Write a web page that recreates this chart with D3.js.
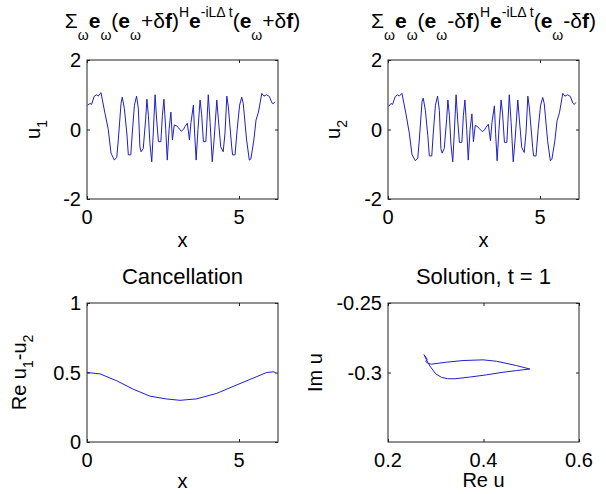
<!DOCTYPE html>
<html>
<head>
<meta charset="utf-8">
<script src="https://d3js.org/d3.v7.min.js"></script>
<style>
  body { margin: 0; background: #fff; }
  svg { display: block; }
  text { font-family: "Liberation Sans", Arial, sans-serif; fill: #000; white-space: pre; }
</style>
</head>
<body>
<svg id="chart" width="606" height="494"></svg>
<script>
// ---- data ----
// top panels: [x, u] samples
var u1 = [[0.02,0.70],[0.10,0.75],[0.15,0.72],[0.24,0.96],[0.32,1.00],[0.37,0.96],[0.46,1.06],[0.59,0.47],[0.70,0.00],[0.79,-0.68],
  [0.90,-0.88],[0.98,-0.80],[1.03,-0.30],[1.12,0.75],[1.16,0.93],[1.23,0.60],[1.31,-0.10],[1.36,-0.73],[1.44,-0.73],[1.49,-0.10],
  [1.56,0.70],[1.63,0.96],[1.69,0.60],[1.74,-0.50],[1.78,-0.64],[1.85,-0.55],[1.93,0.30],[1.97,0.87],[2.02,0.40],[2.07,-0.40],
  [2.13,-0.93],[2.18,-0.10],[2.24,1.00],[2.29,0.30],[2.35,-0.35],[2.43,-0.35],[2.48,0.40],[2.53,0.87],[2.59,0.00],[2.64,-0.88],
  [2.70,0.00],[2.76,0.50],[2.81,-0.30],[2.87,0.13],[2.95,0.10],[3.01,0.05],[3.10,-0.05],[3.17,0.00],[3.22,0.08],[3.30,0.18],
  [3.37,-0.30],[3.42,0.20],[3.50,0.70],[3.54,-0.10],[3.59,-0.88],[3.65,0.00],[3.72,0.85],[3.77,0.45],[3.83,-0.35],[3.91,-0.35],
  [3.95,0.30],[3.99,1.00],[4.05,0.20],[4.12,-0.93],[4.18,-0.30],[4.27,0.85],[4.32,0.30],[4.40,-0.50],[4.48,-0.64],[4.54,-0.10],
  [4.60,0.96],[4.65,0.65],[4.76,-0.50],[4.79,-0.73],[4.87,-0.73],[4.94,0.00],[5.02,0.70],[5.09,0.93],[5.14,0.75],[5.25,-0.30],
  [5.34,-0.88],[5.39,-0.85],[5.49,-0.30],[5.56,0.27],[5.64,0.50],[5.75,1.04],[5.82,0.96],[5.91,1.00],[6.00,0.95],[6.08,0.77],
  [6.13,0.74],[6.18,0.80]];

var u2 = [[0.02,0.66],[0.10,0.75],[0.15,0.72],[0.24,0.95],[0.32,1.00],[0.37,0.96],[0.46,1.04],[0.59,0.45],[0.70,-0.10],[0.79,-0.72],
  [0.90,-0.90],[0.98,-0.82],[1.03,-0.30],[1.12,0.80],[1.16,0.90],[1.23,0.55],[1.31,-0.18],[1.36,-0.76],[1.44,-0.76],[1.49,-0.10],
  [1.56,0.70],[1.63,0.96],[1.69,0.55],[1.74,-0.55],[1.78,-0.68],[1.85,-0.55],[1.93,0.30],[1.97,0.85],[2.02,0.40],[2.07,-0.42],
  [2.13,-0.93],[2.18,-0.10],[2.24,1.00],[2.29,0.30],[2.35,-0.37],[2.43,-0.37],[2.48,0.40],[2.53,0.85],[2.59,0.00],[2.64,-0.88],
  [2.70,0.00],[2.76,0.45],[2.81,-0.35],[2.87,0.12],[2.95,0.08],[3.01,0.02],[3.10,-0.06],[3.17,-0.02],[3.22,0.06],[3.30,0.15],
  [3.37,-0.32],[3.42,0.20],[3.50,0.68],[3.54,-0.12],[3.59,-0.90],[3.65,0.00],[3.72,0.85],[3.77,0.45],[3.83,-0.37],[3.91,-0.37],
  [3.95,0.30],[3.99,1.00],[4.05,0.20],[4.12,-0.93],[4.18,-0.30],[4.27,0.85],[4.32,0.30],[4.40,-0.52],[4.48,-0.66],[4.54,-0.10],
  [4.60,0.96],[4.65,0.62],[4.76,-0.52],[4.79,-0.76],[4.87,-0.76],[4.94,0.00],[5.02,0.70],[5.09,0.92],[5.14,0.75],[5.25,-0.32],
  [5.34,-0.90],[5.39,-0.86],[5.49,-0.32],[5.56,0.25],[5.64,0.48],[5.75,1.04],[5.82,0.96],[5.91,1.00],[6.00,0.95],[6.08,0.76],
  [6.13,0.72],[6.18,0.78]];

// bottom left: Re(u1 - u2)
var cancX = [0, 0.43, 0.98, 1.52, 2.07, 2.60, 3.06, 3.60, 4.27, 4.81, 5.36, 5.91, 6.13, 6.20];
var cancY = [0.50, 0.49, 0.44, 0.38, 0.33, 0.31, 0.30, 0.31, 0.35, 0.40, 0.45, 0.50, 0.505, 0.50];

// bottom right: solution in the complex plane
var solRe = [0.275, 0.282, 0.279, 0.284, 0.291, 0.322, 0.357, 0.399, 0.427, 0.469, 0.497, 0.469, 0.441, 0.406,
  0.371, 0.340, 0.325, 0.312, 0.300, 0.288, 0.280, 0.276];
var solIm = [-0.287, -0.2905, -0.292, -0.2935, -0.294, -0.2926, -0.2914, -0.2909, -0.2919, -0.295, -0.2975, -0.2986, -0.2998, -0.3017,
  -0.3033, -0.3045, -0.3045, -0.3035, -0.301, -0.2955, -0.2905, -0.2875];

var xTicksTop = [0, 5];
var yTicksTop = [-2, 0, 2];
var yTicksCanc = [0, 0.5, 1];
var xTicksSol = [0.2, 0.4, 0.6];
var yTicksSol = [-0.3, -0.25];

var title1 = [["Σ"],["ω","sub"],["e","b"],["ω","sub"],["("],["e","b"],["ω","sub"],["+δ"],["f","b"],[")"],["H","sup"],
  ["e","b"],["-iLΔ t","sup"],["("],["e","b"],["ω","sub"],["+δ"],["f","b"],[")"]];
var title2 = [["Σ"],["ω","sub"],["e","b"],["ω","sub"],["("],["e","b"],["ω","sub"],["-δ"],["f","b"],[")"],["H","sup"],
  ["e","b"],["-iLΔ t","sup"],["("],["e","b"],["ω","sub"],["-δ"],["f","b"],[")"]];

var svg = d3.select("#chart");
var BIG = 20, SMALL = 14;
var lineColor = "#1f1fc8";

function rich(sel, parts, size, subSize, subOff, supOff) {
  var cur = 0;
  parts.forEach(function(p) {
    var kind = p[1] || "n";
    var off = kind == "sub" ? subOff : (kind == "sup" ? supOff : 0);
    var s = sel.append("tspan").attr("dy", off - cur).text(p[0])
      .attr("font-size", (kind == "sub" || kind == "sup") ? subSize : size);
    if (kind == "b") s.attr("font-weight", "bold");
    cur = off;
  });
}

function panel(cfg) {
  var g = svg.append("g").attr("transform", "translate(" + cfg.left + "," + cfg.top + ")");
  var x = d3.scaleLinear().domain(cfg.xd).range([0, cfg.w]);
  var y = d3.scaleLinear().domain(cfg.yd).range([cfg.h, 0]);

  var line = d3.line().x(function(d) { return x(d[0]); }).y(function(d) { return y(d[1]); });
  g.append("path").datum(cfg.data)
    .attr("fill", "none").attr("stroke", lineColor).attr("stroke-width", 1)
    .attr("stroke-linejoin", "round").attr("d", line);

  // ticks inside, on all four sides
  var tk = 3;
  g.append("g").attr("transform", "translate(0," + cfg.h + ")")
    .call(d3.axisBottom(x).tickValues(cfg.xt).tickSize(-tk).tickFormat(""))
    .call(function(a) { a.select(".domain").remove(); });
  g.append("g")
    .call(d3.axisTop(x).tickValues(cfg.xt).tickSize(-tk).tickFormat(""))
    .call(function(a) { a.select(".domain").remove(); });
  g.append("g")
    .call(d3.axisLeft(y).tickValues(cfg.yt).tickSize(-tk).tickFormat(""))
    .call(function(a) { a.select(".domain").remove(); });
  g.append("g").attr("transform", "translate(" + cfg.w + ",0)")
    .call(d3.axisRight(y).tickValues(cfg.yt).tickSize(-tk).tickFormat(""))
    .call(function(a) { a.select(".domain").remove(); });
  g.selectAll(".tick line").attr("stroke", "#222");

  g.append("rect").attr("width", cfg.w).attr("height", cfg.h)
    .attr("fill", "none").attr("stroke", "#222").attr("stroke-width", 1);

  // tick labels
  g.selectAll(".xl").data(cfg.xt).enter().append("text")
    .attr("x", function(d) { return x(d); }).attr("y", cfg.h + 25)
    .attr("text-anchor", "middle").attr("font-size", BIG).text(function(d) { return d; });
  g.selectAll(".yl").data(cfg.yt).enter().append("text")
    .attr("x", -6).attr("y", function(d) { return y(d) + 7; })
    .attr("text-anchor", "end").attr("font-size", BIG).text(function(d) { return d; });

  // x label
  g.append("text").attr("x", cfg.w / 2).attr("y", cfg.h + cfg.xlOff)
    .attr("text-anchor", "middle").attr("font-size", BIG).text(cfg.xlabel);

  // y label
  var yl = g.append("text").attr("text-anchor", "middle")
    .attr("transform", "translate(" + cfg.ylOff + "," + cfg.h / 2 + ") rotate(-90)");
  rich(yl, cfg.ylabel, BIG, SMALL, 7, -8);

  // title
  var tt = g.append("text").attr("text-anchor", "middle")
    .attr("transform", "translate(" + cfg.w / 2 + "," + cfg.titleOff + ")");
  rich(tt, cfg.title, cfg.titleSize, SMALL, 12, -11);
}

var W = 191, H = 139;

panel({ left: 87, top: 60, w: W, h: H, xd: [0, 2 * Math.PI], yd: [-2, 2], xt: xTicksTop, yt: yTicksTop,
  data: u1, xlabel: "x", xlOff: 48, ylabel: [["u"], ["1", "sub"]], ylOff: -47,
  title: title1, titleSize: 21, titleOff: -32 });

panel({ left: 388, top: 60, w: W, h: H, xd: [0, 2 * Math.PI], yd: [-2, 2], xt: xTicksTop, yt: yTicksTop,
  data: u2, xlabel: "x", xlOff: 48, ylabel: [["u"], ["2", "sub"]], ylOff: -48,
  title: title2, titleSize: 21, titleOff: -32 });

panel({ left: 87, top: 303, w: W, h: H, xd: [0, 2 * Math.PI], yd: [0, 1], xt: xTicksTop, yt: yTicksCanc,
  data: d3.zip(cancX, cancY), xlabel: "x", xlOff: 46,
  ylabel: [["Re u"], ["1", "sub"], ["-u"], ["2", "sub"]], ylOff: -61,
  title: [["Cancellation"]], titleSize: 22, titleOff: -19 });

panel({ left: 388, top: 303, w: W, h: H, xd: [0.2, 0.6], yd: [-0.35, -0.25], xt: xTicksSol, yt: yTicksSol,
  data: d3.zip(solRe, solIm), xlabel: "Re u", xlOff: 45,
  ylabel: [["Im u"]], ylOff: -66,
  title: [["Solution, t = 1"]], titleSize: 22, titleOff: -19 });
</script>
</body>
</html>
